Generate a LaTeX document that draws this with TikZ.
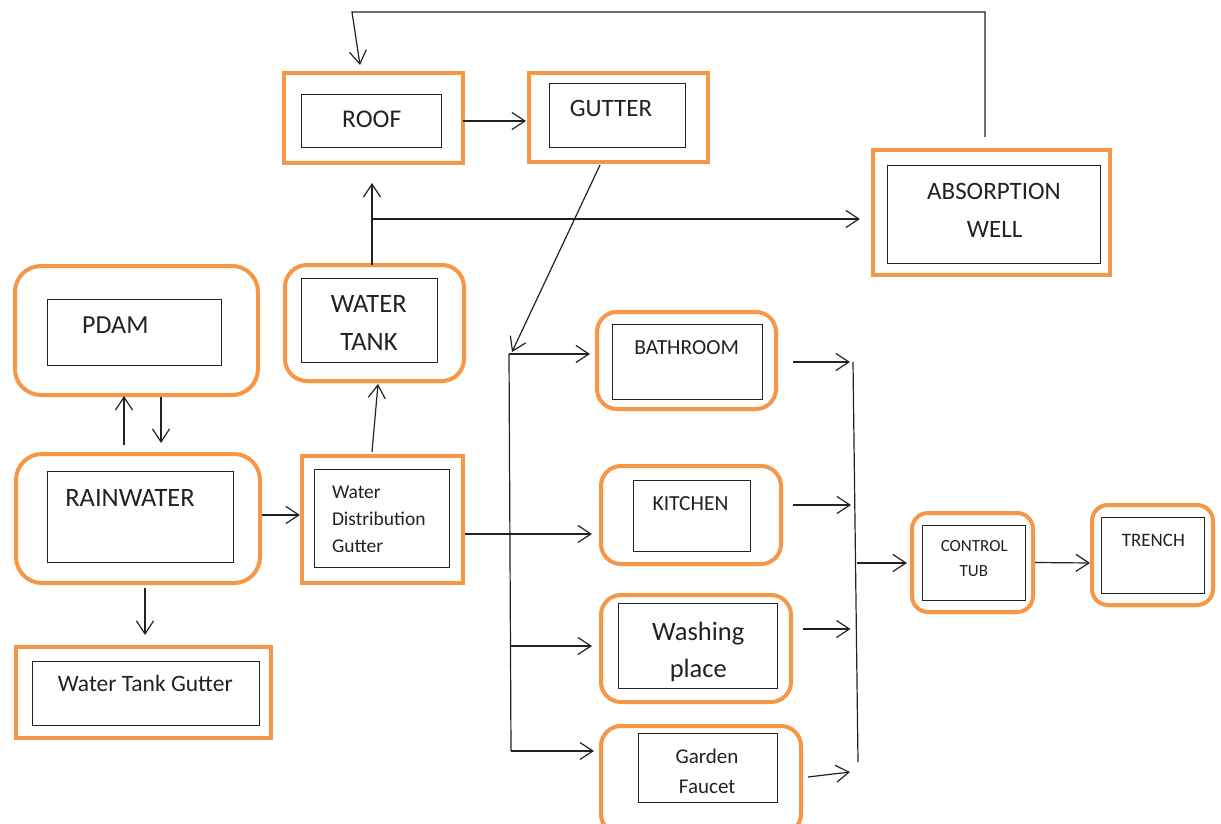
\documentclass[tikz,border=0pt]{standalone}
\usepackage{fontspec}
\setmainfont{Carlito}
\usetikzlibrary{arrows.meta}
\definecolor{orng}{HTML}{F79646}
\definecolor{ink}{HTML}{222222}
\newcommand\fz[1]{\fontsize{#1}{#1}\selectfont}
\begin{document}
\begin{tikzpicture}[x=1pt,y=-1pt,
  sq/.style={draw=orng,line width=4pt,inner sep=0pt,outer sep=0pt,rectangle},
  rnd/.style={sq,rounded corners=#1},
  inb/.style={draw=ink,line width=1.3pt,inner sep=0pt,outer sep=0pt,rectangle},
  lbl/.style={inner sep=0pt,outer sep=0pt,text=ink,anchor=base},
  lnk/.style={draw=ink,line width=1.2pt},
  arr/.style={lnk,-{Straight Barb[length=13pt,width=17pt,line width=1.2pt]}}]
\fill[white] (0,0) rectangle (1221,824);
\clip (0,0) rectangle (1221,824);

% ---------- outer boxes ----------
\node[sq,minimum width=179pt,minimum height=90pt] (roof) at (373.5,118) {};
\node[sq,minimum width=179pt,minimum height=89pt] (gut) at (618.5,117.5) {};
\node[sq,minimum width=237pt,minimum height=125pt] (abs) at (991.5,212.5) {};
\node[rnd=26pt,minimum width=243pt,minimum height=129pt] (pdam) at (136.5,330.5) {};
\node[rnd=22pt,minimum width=179pt,minimum height=116pt] (wt) at (374.5,323) {};
\node[rnd=26pt,minimum width=244pt,minimum height=129pt] (rain) at (138,518.5) {};
\node[sq,minimum width=161pt,minimum height=127pt] (wdg) at (382.5,519.5) {};
\node[sq,minimum width=255pt,minimum height=91pt] (wtg) at (143.5,692.5) {};
\node[rnd=20pt,minimum width=179pt,minimum height=97pt] (bath) at (686.5,360.5) {};
\node[rnd=20pt,minimum width=180pt,minimum height=98pt] (kit) at (691,515) {};
\node[rnd=20pt,minimum width=190pt,minimum height=107pt] (wash) at (696,648.5) {};
\node[rnd=20pt,minimum width=200pt,minimum height=108pt] (gard) at (701,780) {};
\node[rnd=16pt,minimum width=121pt,minimum height=99pt] (ct) at (972.5,562.5) {};
\node[rnd=16pt,minimum width=121pt,minimum height=100pt] (tr) at (1152.5,555) {};

% ---------- inner boxes ----------
\node[inb,minimum width=140pt,minimum height=53pt] (roofi) at (371.5,121) {};
\node[inb,minimum width=136pt,minimum height=64pt] (guti) at (617.5,115.5) {};
\node[inb,minimum width=213pt,minimum height=98pt] (absi) at (994,214.5) {};
\node[inb,minimum width=174pt,minimum height=66pt] (pdami) at (134.5,332.5) {};
\node[inb,minimum width=136pt,minimum height=84pt] (wti) at (369.5,320.5) {};
\node[inb,minimum width=186pt,minimum height=91pt] (raini) at (140.5,517) {};
\node[inb,minimum width=135pt,minimum height=98pt] (wdgi) at (382,518.5) {};
\node[inb,minimum width=227pt,minimum height=64pt] (wtgi) at (146,693.5) {};
\node[inb,minimum width=150pt,minimum height=75pt] (bathi) at (687.5,362) {};
\node[inb,minimum width=117pt,minimum height=71pt] (kiti) at (692,516) {};
\node[inb,minimum width=159pt,minimum height=85pt] (washi) at (698,646) {};
\node[inb,minimum width=139pt,minimum height=69pt] (gardi) at (708,768) {};
\node[inb,minimum width=103pt,minimum height=75pt] (cti) at (974,563) {};
\node[inb,minimum width=103pt,minimum height=76pt] (tri) at (1153,555.5) {};

% ---------- labels ----------
\node[lbl,font=\fz{25.5}] (troof) at (371.7,128) {ROOF};
\node[lbl,font=\fz{25}] (tgut) at (611,117) {GUTTER};
\node[lbl,font=\fz{25}] (tabs1) at (994,199.5) {ABSORPTION};
\node[lbl,font=\fz{25}] (tabs2) at (994.7,237.5) {WELL};
\node[lbl,font=\fz{26}] (tpdam) at (115.3,333) {PDAM};
\node[lbl,font=\fz{26.5}] (twt1) at (368.7,312.5) {WATER};
\node[lbl,font=\fz{26.5}] (twt2) at (369,350) {TANK};
\node[lbl,font=\fz{26.5}] (train) at (130,506) {RAINWATER};
\node[lbl,font=\fz{19.5},anchor=base west] (twdg1) at (332,498.3) {Water};
\node[lbl,font=\fz{19.5},anchor=base west] (twdg2) at (332,525) {Distribution};
\node[lbl,font=\fz{19.5},anchor=base west] (twdg3) at (332,552) {Gutter};
\node[lbl,font=\fz{23.5}] (twtg) at (145.3,691.5) {Water Tank Gutter};
\node[lbl,font=\fz{21.5}] (tbath) at (686.7,354) {BATHROOM};
\node[lbl,font=\fz{21.5}] (tkit) at (690.5,510.5) {KITCHEN};
\node[lbl,font=\fz{26.5}] (twash1) at (698.3,640) {Washing};
\node[lbl,font=\fz{26.5}] (twash2) at (698.3,677) {place};
\node[lbl,font=\fz{21}] (tgard1) at (707,763.3) {Garden};
\node[lbl,font=\fz{21}] (tgard2) at (707.2,793.3) {Faucet};
\node[lbl,font=\fz{17}] (tct1) at (974.2,551.7) {CONTROL};
\node[lbl,font=\fz{17}] (tct2) at (973.8,576) {TUB};
\node[lbl,font=\fz{19}] (ttr) at (1153.3,546.7) {TRENCH};

% ---------- free junctions ----------
\coordinate (j) at (372,219);
\coordinate (bt) at (509,354);
\coordinate (bw) at (510,646);
\coordinate (bb) at (511,751);
\coordinate (ct1) at (853,362);
\coordinate (ck) at (854,505);
\coordinate (cw) at (855.5,629);
\coordinate (cm) at (857,563);
\coordinate (ct2) at (858,762);

% ---------- connectors ----------
\draw[arr] ([xshift=-6.5pt,yshift=13pt]abs.north) -- ++(0,-125) -- ++(-633,0)
  -- ([xshift=-13.5pt,yshift=8pt]roof.north);
\draw[arr] ([yshift=-3pt]roof.east) -- ([xshift=-3pt,yshift=-3.5pt]gut.west);
\draw[arr] ([xshift=-18.5pt,yshift=-3pt]gut.south) -- ([xshift=3pt,yshift=2pt]bt);
\draw[arr] ([xshift=-2.5pt]wt.north) -- ([xshift=-1.5pt,yshift=-20pt]roof.south);
\draw[arr] (j) -- ([xshift=-13pt,yshift=-6.5pt]abs.west);
\draw[arr] ([xshift=-14pt,yshift=9pt]rain.north) -- ([xshift=-12.5pt,yshift=-1pt]pdam.south);
\draw[arr] ([xshift=24.5pt,yshift=-2pt]pdam.south) -- ([xshift=23pt,yshift=11pt]rain.north);
\draw[arr] ([xshift=2pt,yshift=3.5pt]rain.east) -- ([xshift=-2pt,yshift=4.5pt]wdg.west);
\draw[arr] ([xshift=7pt,yshift=-5pt]rain.south) -- ([xshift=1.5pt,yshift=12pt]wtg.north);
\draw[arr] ([xshift=-10.5pt,yshift=4pt]wdg.north) -- ([xshift=3.5pt,yshift=-3pt]wt.south);
\draw[arr] ([xshift=2pt,yshift=-14.5pt]wdg.east) -- ([xshift=-9pt,yshift=-19pt]kit.west);

\draw[lnk] (bt) -- (bb);
\draw[arr] (bt) -- ([xshift=-7pt,yshift=6.5pt]bath.west);
\draw[arr] (bw) -- ([xshift=-9pt,yshift=2.5pt]wash.west);
\draw[arr] (bb) -- ([xshift=-7pt,yshift=29pt]gard.west);

\draw[lnk] (ct1) -- (ct2);
\draw[arr] ([xshift=17pt,yshift=-1.5pt]bath.east) -- ([xshift=-3pt]ct1);
\draw[arr] ([xshift=12pt,yshift=10pt]kit.east) -- ([xshift=-3pt]ck);
\draw[arr] ([xshift=12pt,yshift=19.5pt]wash.east) -- ([xshift=-5pt]cw);
\draw[arr] ([xshift=7pt,yshift=3pt]gard.east) -- ([xshift=-8pt,yshift=8pt]gard.east -| ct2);
\draw[arr] (cm) -- ([xshift=-5pt,yshift=-0.5pt]ct.west);
\draw[arr] ([xshift=2pt]ct.east) -- ([xshift=-2pt,yshift=-8pt]tr.west);
\end{tikzpicture}
\end{document}
